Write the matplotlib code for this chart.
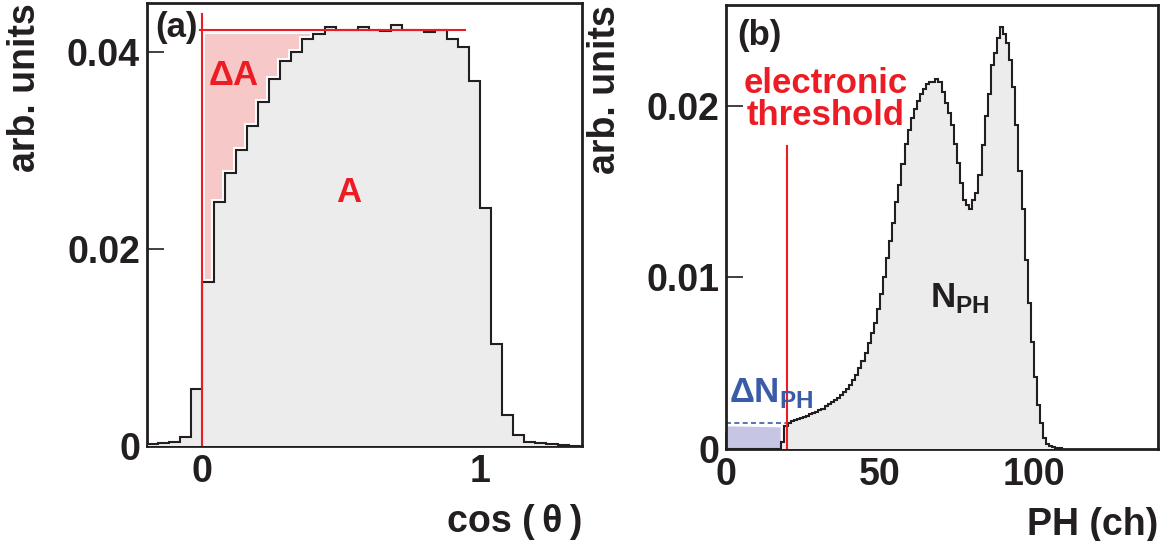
"""
Two-panel histogram: (a) cos(theta) acceptance with Delta-A loss,
(b) pulse-height spectrum with electronic threshold.
"""
import numpy as np
import matplotlib
matplotlib.use("Agg")
import matplotlib.pyplot as plt

plt.rcParams["font.family"] = ["Liberation Sans", "DejaVu Sans"]
plt.rcParams["font.weight"] = "bold"
plt.rcParams["mathtext.fontset"] = "custom"
plt.rcParams["mathtext.rm"] = "Liberation Sans"
plt.rcParams["mathtext.bf"] = "Liberation Sans:bold"

# ── panel (a): cos(theta) histogram, bin width 0.04 ─────────────────────
COS_EDGES = np.round(np.arange(-0.20, 1.3601, 0.04), 3)
COS_VALUES = [
    0.0002, 0.00034, 0.00044, 0.00088, 0.0058,
    0.01668, 0.0248, 0.02778, 0.03005, 0.03249, 0.03496, 0.03726, 0.03909,
    0.04003, 0.04139, 0.04189, 0.04257, 0.04223, 0.04223, 0.04257, 0.0423,
    0.04213, 0.04277, 0.0423, 0.0423, 0.04206, 0.0423, 0.04139, 0.04054,
    0.03709,
    0.0242, 0.01036, 0.00318, 0.00112, 0.00044, 0.00027, 0.00017, 0.0001,
    0.00005,
]
PLATEAU_A = 0.0423          # red horizontal reference line
PLATEAU_X = [-0.01, 0.946]
CUT_A = 0.0                 # red vertical line position
CUT_A_TOP = 0.0439

# ── panel (b): pulse-height spectrum, 1 channel per bin ─────────────────
PH_VALUES = [0.0] * 18 + [
    0.0004, 0.0013, 0.00152, 0.00160, 0.00166, 0.00172, 0.00178, 0.00185,
    0.00193, 0.00200, 0.00207, 0.00215, 0.00224, 0.00234, 0.00246, 0.00258,
    0.00270, 0.00284, 0.00298, 0.00313, 0.00330, 0.00350, 0.00372, 0.00400,
    0.00430, 0.00468, 0.00510, 0.00560, 0.00615, 0.00672, 0.00735, 0.00815,
    0.00900, 0.01000, 0.0111, 0.0121, 0.0132, 0.0144, 0.0154, 0.0166,
    0.0178, 0.0186, 0.0193, 0.0198, 0.0203, 0.0207, 0.0210, 0.0213,
    0.0214, 0.0214, 0.0216, 0.0214, 0.0208, 0.0202, 0.0196, 0.0189,
    0.0178, 0.0167, 0.0155, 0.0145, 0.0142, 0.0140, 0.0145, 0.0149,
    0.0160, 0.0177, 0.0194, 0.0207, 0.0224, 0.0231, 0.0240, 0.0246,
    0.0242, 0.0237, 0.0227, 0.0211, 0.0189, 0.0162, 0.0140, 0.0110,
    0.0085, 0.0062, 0.0042, 0.00255, 0.00148, 0.0006, 0.00027, 0.00014,
    0.00008, 0.00004, 0.00002,
]
THRESHOLD = 19.7
THRESHOLD_TOP = 0.01768
LOST_LEVEL = 0.00151        # dashed line level of Delta N_PH
LOST_X = [0.0, 17.6]
LOST_Y = [0.00133, 0.00127]

RED = "#ed1c24"
PINK = "#f7c8c8"
GREY = "#ececec"
BLUE = "#3a5ba6"
LAVENDER = "#c6c6e4"
INK = "#231f20"
FS = 27


def style_axes(ax):
    for sp in ax.spines.values():
        sp.set_linewidth(2.0)
        sp.set_color(INK)
    ax.tick_params(direction="in", length=12, width=1.2, labelsize=FS,
                   colors=INK, top=False, right=False)
    ax.tick_params(axis="x", pad=6)
    ax.tick_params(axis="y", pad=5)
    for lab in ax.get_xticklabels() + ax.get_yticklabels():
        lab.set_fontweight("bold")


def main():
    fig = plt.figure(figsize=(11.7, 5.41), dpi=100)
    ax_a = fig.add_axes([0.1256, 0.1756, 0.3718, 0.8189])
    ax_b = fig.add_axes([0.6205, 0.1708, 0.3692, 0.8200])

    # ── (a) ──────────────────────────────────────────────────────────
    edges = COS_EDGES
    vals = np.asarray(COS_VALUES)
    i0 = int(np.argmin(np.abs(edges - 0.0)))
    n_pink = 10
    pink_edges = edges[i0:i0 + n_pink + 1].copy()
    pink_edges[0] += 0.008
    ax_a.stairs(np.full(n_pink, 0.0418), pink_edges, baseline=vals[i0:i0 + n_pink],
                fill=True, color=PINK, zorder=1, lw=0)
    ax_a.stairs(vals, edges, color="white", lw=5, zorder=2, baseline=None)
    ax_a.stairs(vals, edges, fill=True, color=GREY, zorder=3, lw=0)
    ax_a.stairs(vals, edges, color=INK, lw=1.5, zorder=4)
    ax_a.plot(PLATEAU_X, [PLATEAU_A, PLATEAU_A], color=RED, lw=1.5, zorder=5)
    ax_a.plot([CUT_A, CUT_A], [0, CUT_A_TOP], color=RED, lw=1.5, zorder=5)

    ax_a.set_xlim(-0.2, 1.368)
    ax_a.set_ylim(0, 0.045)
    ax_a.set_xticks([0, 1])
    ax_a.set_xticklabels(["0", "1"])
    ax_a.set_yticks([0, 0.02, 0.04])
    ax_a.set_yticklabels(["0", "0.02", "0.04"])
    style_axes(ax_a)
    ax_a.set_ylabel("arb. units", fontsize=FS, fontweight="bold", color=INK, loc="top")
    ax_a.yaxis.set_label_coords(-0.239, 1.0)
    ax_a.set_xlabel("cos (\u2009θ\u2009)", fontsize=FS, fontweight="bold", color=INK,
                    loc="right", labelpad=10)

    ax_a.text(0.018, 0.944, "(a)", transform=ax_a.transAxes, fontsize=25,
              fontweight="bold", color=INK, ha="left", va="center")
    ax_a.text(0.112, 0.0376, r"$\Delta\mathbf{A}$", fontsize=25, color=RED,
              ha="center", va="center", zorder=6)
    ax_a.text(0.529, 0.0257, "A", fontsize=25, fontweight="bold", color=RED,
              ha="center", va="center", zorder=6)

    # ── (b) ──────────────────────────────────────────────────────────
    ph = np.asarray(PH_VALUES)
    ph_edges = np.arange(len(ph) + 1)
    ax_b.fill_between(LOST_X, 0, LOST_Y, color=LAVENDER, lw=0, zorder=1)
    ax_b.plot([0, THRESHOLD], [LOST_LEVEL, LOST_LEVEL], color=BLUE, lw=1.2,
              ls=(0, (3, 2)), zorder=2)
    ax_b.stairs(ph, ph_edges, fill=True, color=GREY, zorder=3, lw=0)
    ax_b.stairs(ph, ph_edges, color=INK, lw=1.5, zorder=4)
    ax_b.plot([THRESHOLD, THRESHOLD], [0, THRESHOLD_TOP], color=RED, lw=1.5, zorder=5)

    ax_b.set_xlim(0, 140.3)
    ax_b.set_ylim(0, 0.0259)
    ax_b.set_xticks([0, 50, 100])
    ax_b.set_xticklabels(["0", "50", "100"])
    ax_b.set_yticks([0, 0.01, 0.02])
    ax_b.set_yticklabels(["0", "0.01", "0.02"])
    style_axes(ax_b)
    ax_b.set_ylabel("arb. units", fontsize=FS, fontweight="bold", color=INK, loc="top")
    ax_b.yaxis.set_label_coords(-0.238, 1.0)
    ax_b.set_xlabel("PH (ch)", fontsize=FS, fontweight="bold", color=INK, loc="right",
                    labelpad=10)

    ax_b.text(10.9, 0.0241, "(b)", fontsize=25, fontweight="bold", color=INK,
              ha="center", va="center")
    ax_b.text(32.5, 0.0204, "electronic\nthreshold", fontsize=25, fontweight="bold",
              color=RED, ha="center", va="center", linespacing=0.95)
    ax_b.text(66.2, 0.00826, r"$\mathbf{N}_{\mathbf{PH}}$", fontsize=25, color=INK,
              ha="left", va="baseline", zorder=6)
    ax_b.text(1.0, 0.00274, r"$\Delta\mathbf{N}_{\mathbf{PH}}$", fontsize=25, color=BLUE,
              ha="left", va="baseline", zorder=6)

    fig.savefig("out.png", dpi=100)


if __name__ == "__main__":
    main()
